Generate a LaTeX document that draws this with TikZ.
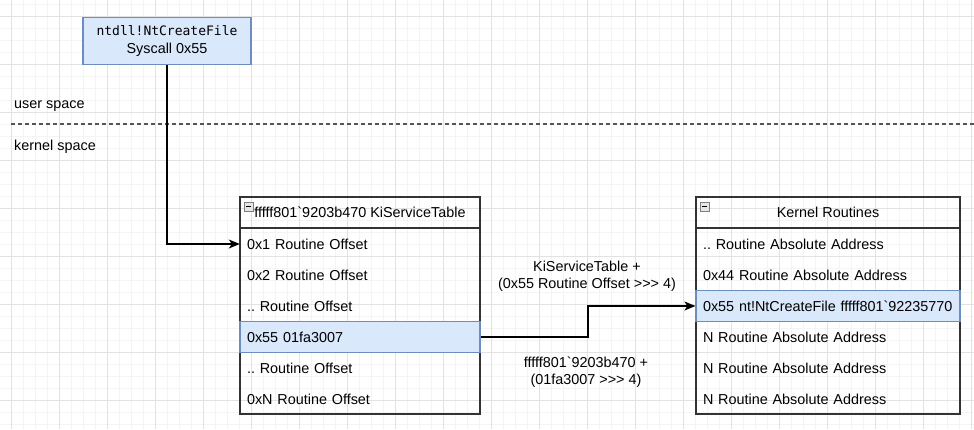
\documentclass[tikz,border=0pt]{standalone}
\usepackage{fontspec}
\setmainfont{Liberation Sans}[Ligatures=TeXOff]
\setmonofont{DejaVu Sans Mono}
\usetikzlibrary{arrows.meta,calc}
\definecolor{gridmin}{HTML}{F4F4F4}
\definecolor{gridmaj}{HTML}{E2E2E2}
\definecolor{bfill}{HTML}{DAE8FC}
\definecolor{bline}{HTML}{6C8EBF}
\definecolor{tline}{HTML}{333333}
\definecolor{sepline}{HTML}{555555}
\definecolor{iconfill}{HTML}{E6E6E6}
\definecolor{iconline}{HTML}{7F7F7F}
\frenchspacing
\tikzset{
  txt/.style={font=\fontsize{14.4}{17.3}\selectfont, inner sep=0pt},
  bluebox/.style={txt, draw=bline, fill=bfill, line width=1.2pt, align=center},
  tbl/.style={draw=tline, line width=1.2pt, inner sep=0pt},
  hdr/.style={txt, draw=tline, line width=1.2pt, minimum height=31pt, align=center},
  lrow/.style={txt, minimum width=240pt, minimum height=31pt, text width=226pt, inner xsep=7pt, align=left},
  rrow/.style={txt, minimum width=264pt, minimum height=31pt, text width=250pt, inner xsep=7pt, align=left},
  hl/.style={draw=bline, fill=bfill, line width=1.2pt},
  conn/.style={draw=black, line width=1.2pt, -{Stealth[length=11pt,width=9pt,inset=3pt]}},
  lbl/.style={txt, align=center},
  sep/.style={draw=sepline, line width=1.4pt, dash pattern=on 3.5pt off 3.5pt},
  icon/.style={draw=iconline, fill=iconfill, line width=0.8pt},
}
\begin{document}
\begin{tikzpicture}[x=1pt,y=-1pt]
\useasboundingbox (0,0) rectangle (974,429);
\fill[white] (0,0) rectangle (974,429);
% grid
\foreach \x in {-1,11,...,975} \draw[gridmin, line width=1pt] (\x,0) -- (\x,429);
\foreach \y in {4,16,...,430} \draw[gridmin, line width=1pt] (0,\y) -- (974,\y);
\foreach \x in {11,59,...,975} \draw[gridmaj, line width=1pt] (\x,0) -- (\x,429);
\foreach \y in {16,64,...,430} \draw[gridmaj, line width=1pt] (0,\y) -- (974,\y);

% user / kernel separator
\coordinate (sepL) at (11,124);
\coordinate (sepR) at (974,124);
\draw[sep] (sepL) -- (sepR);
\node[txt, anchor=west] (us) at (14,106) {user space};
\node[txt, anchor=west] (ks) at (14,147) {kernel space};

% syscall box
\node[bluebox, minimum width=168pt, minimum height=47pt] (sys) at (167,41)
  {{\ttfamily\fontsize{13}{17.3}\selectfont ntdll!NtCreateFile}\\Syscall 0x55};

% left table
\node[tbl, minimum width=240pt, minimum height=217pt] (lt) at (360,305.5) {};
\node[lrow] (l1) at (360,244) {0x1 Routine Offset};
\node[lrow] (l2) at (360,275) {0x2 Routine Offset};
\node[lrow] (l3) at (360,306) {.. Routine Offset};
\node[lrow, hl] (l4) at (360,337) {0x55 01fa3007};
\node[lrow] (l5) at (360,368) {.. Routine Offset};
\node[lrow] (l6) at (360,399) {0xN Routine Offset};
\node[hdr, minimum width=240pt] (lh) at (360,212.5) {fffff801`9203b470 KiServiceTable};
\draw[icon] ($(lh.north west)+(5,6)$) rectangle ++(9,9);
\draw[black, line width=1pt] ($(lh.north west)+(7,10.5)$) -- ++(5,0);

% right table
\node[tbl, minimum width=264pt, minimum height=217pt] (rt) at (828,305.5) {};
\node[rrow] (r1) at (828,244) {.. Routine Absolute Address};
\node[rrow] (r2) at (828,275) {0x44 Routine Absolute Address};
\node[rrow, hl] (r3) at (828,306) {0x55 nt!NtCreateFile fffff801`92235770};
\node[rrow] (r4) at (828,337) {N Routine Absolute Address};
\node[rrow] (r5) at (828,368) {N Routine Absolute Address};
\node[rrow] (r6) at (828,399) {N Routine Absolute Address};
\node[hdr, minimum width=264pt] (rh) at (828,212.5) {Kernel Routines};
\draw[icon] ($(rh.north west)+(5,6)$) rectangle ++(9,9);
\draw[black, line width=1pt] ($(rh.north west)+(7,10.5)$) -- ++(5,0);

% connectors
\draw[conn] (sys.south) |- (l1.west);
\draw[conn] (l4.east) -| ($(l4.east)!0.5!(r3.west)$) |- (r3.west);

% labels
\node[lbl] (lab1) at (587,276) {KiServiceTable +\\(0x55 Routine Offset >>> 4)};
\node[lbl] (lab2) at (586,372.5) {fffff801`9203b470 +\\(01fa3007 >>> 4)};
\end{tikzpicture}
\end{document}
